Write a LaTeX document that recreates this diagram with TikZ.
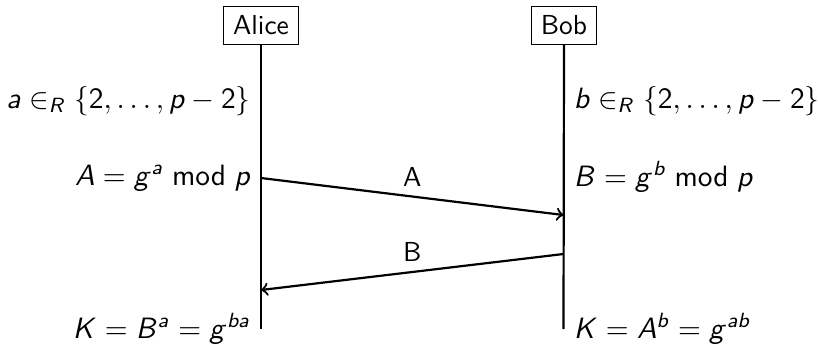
\documentclass[tikz,border=0pt]{standalone}
% sans serif math: slanted Computer Modern Sans letters, upright sans operators and digits
\DeclareSymbolFont{sfslanted}{OT1}{cmss}{m}{sl}
\SetSymbolFont{operators}{normal}{OT1}{cmss}{m}{n}
\makeatletter
\count@=65
\loop
  \mathcode\count@=\numexpr "7000+\symsfslanted*"100+\count@\relax
  \advance\count@ by 1
\ifnum\count@<91 \repeat
\count@=97
\loop
  \mathcode\count@=\numexpr "7000+\symsfslanted*"100+\count@\relax
  \advance\count@ by 1
\ifnum\count@<123 \repeat
\makeatother
\begin{document}
\begin{tikzpicture}[x=0.364pt,y=-0.364pt,font=\sffamily,
  party/.style={draw,line width=0.4pt},
  life/.style={thick},
  msg/.style={thick,->},
  lcalc/.style={anchor=base east,scale=1.07},
  rcalc/.style={anchor=base west,scale=1.07}]
\useasboundingbox (0,0) rectangle (818,344);
% participants
\node[party] (alice) at (261,25.5) {Alice};
\node[party] (bob) at (564,25.5) {Bob};
\coordinate (aend) at (261,329);
\coordinate (bend) at (563.5,329);
\draw[life] (alice.south) -- (aend);
\draw[life] (bob.south) -- (bend);
% Alice's computations
\node[lcalc] (a1) at (261,108) {$a \in_R \{2,\ldots,p-2\}$};
\node[lcalc] (a2) at (261,185) {$A = g^a \bmod p$};
\node[lcalc] (a3) at (261,338) {$K = B^a = g^{ba}$};
% Bob's computations
\node[rcalc] (b1) at (563.5,108) {$b \in_R \{2,\ldots,p-2\}$};
\node[rcalc] (b2) at (563.5,186) {$B = g^b \bmod p$};
\node[rcalc] (b3) at (563.5,338) {$K = A^b = g^{ab}$};
% messages
\coordinate (sa) at (261,178);
\coordinate (ra) at (563.5,215);
\coordinate (sb) at (563.5,254);
\coordinate (rb) at (261,290);
\draw[msg] (sa) -- node[above] (la) {A} (ra);
\draw[msg] (sb) -- node[above] (lb) {B} (rb);
\end{tikzpicture}
\end{document}
